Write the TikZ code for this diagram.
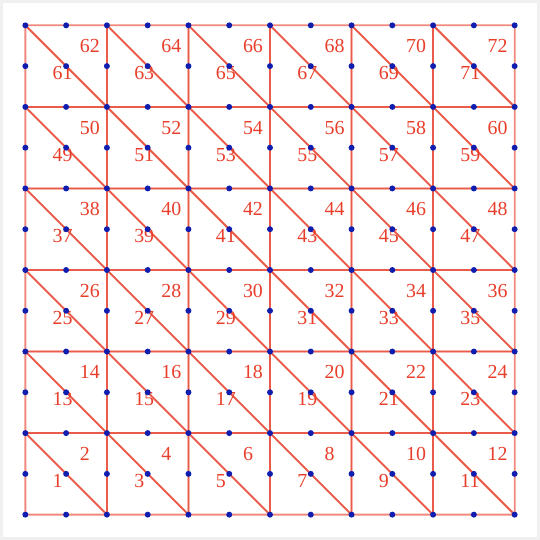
\documentclass[tikz,border=0pt]{standalone}
\usepackage{fontspec}
\setmainfont{Liberation Serif}
\definecolor{meshred}{RGB}{230,60,40}
\definecolor{labred}{RGB}{232,62,42}
\definecolor{dotblue}{RGB}{15,30,175}
\begin{document}
\begin{tikzpicture}[x=1pt,y=1pt,
  edge/.style={draw=meshred, draw opacity=0.6, line width=1.8pt, line join=round},
  lab/.style={anchor=base west, inner sep=0pt, text=labred, font=\fontsize{20}{24}\selectfont},
  dot/.style={circle, fill=dotblue, inner sep=0pt, minimum size=6pt}]
\fill[white] (0,0) rectangle (540,540);
\draw[black!6, line width=3pt] (0,0) rectangle (540,540);
\useasboundingbox (0,0) rectangle (540,540);
\foreach \i in {0,...,12}{\foreach \j in {0,...,12}{\coordinate (p-\i-\j) at ({24+41*\i},{24+41*\j});}}
\foreach \i [evaluate=\i as \xa using int(2*\i), evaluate=\i as \xb using int(2*\i+2)] in {0,...,5}{
 \foreach \j [evaluate=\j as \ya using int(2*\j), evaluate=\j as \yb using int(2*\j+2), evaluate=\j as \nl using int(12*\j+2*\i+1), evaluate=\j as \nu using int(12*\j+2*\i+2)] in {0,...,5}{
   \draw[edge] (p-\xa-\yb) -- (p-\xa-\ya) -- (p-\xb-\ya) -- cycle;
   \draw[edge] (p-\xa-\yb) -- (p-\xb-\yb) -- (p-\xb-\ya) -- cycle;
   \node[lab] (t\nl) at ({24+82*\i+27.33},{24+82*\j+27.33}) {\nl};
   \node[lab] (t\nu) at ({24+82*\i+54.67},{24+82*\j+54.67}) {\nu};
 }}
\foreach \i in {0,...,12}{\foreach \j in {0,...,12}{\node[dot] (d-\i-\j) at (p-\i-\j) {};}}
\end{tikzpicture}
\end{document}
